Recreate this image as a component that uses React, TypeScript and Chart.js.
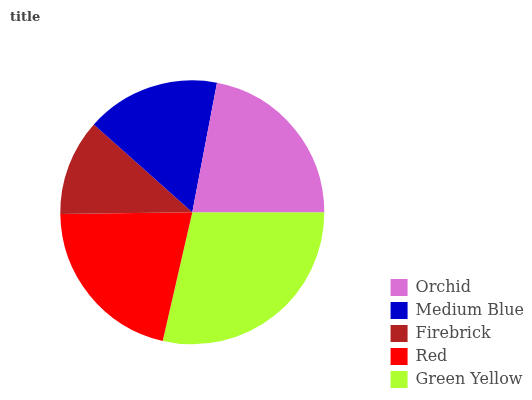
import React, { useEffect, useRef } from "react";
import { Chart, registerables } from "chart.js";

Chart.register(...registerables);

const labels = ["Orchid", "Medium Blue", "Firebrick", "Red", "Green Yellow"];
const values = [22.0, 16.4, 11.8, 21.2, 28.6];
const colors = ["#DA70D6", "#0000CD", "#B22222", "#FF0000", "#ADFF2F"];
const titleText = "title";

export default function App() {
  const ref = useRef<HTMLCanvasElement | null>(null);

  useEffect(() => {
    document.body.style.margin = "0";
    const canvas = ref.current;
    if (!canvas) return;
    // the reference slices run counter-clockwise; Chart.js draws clockwise,
    // so feed the data reversed and reverse the legend back.
    const rl = [...labels].reverse();
    const rv = [...values].reverse();
    const rc = [...colors].reverse();

    const titleInset = {
      id: "titleInset",
      afterLayout(chart: any) {
        const t = chart.titleBlock;
        if (t) {
          t.left += 10;
          t.right += 10;
        }
      },
    };

    const chart = new Chart(canvas, {
      type: "pie",
      data: {
        labels: rl,
        datasets: [
          {
            data: rv,
            backgroundColor: rc,
            borderWidth: 0,
          },
        ],
      },
      plugins: [titleInset],
      options: {
        responsive: false,
        animation: false,
        rotation: 90,
        radius: 132,
        layout: { padding: { left: 0, right: -2, top: 0, bottom: 6 } },
        font: { family: "'DejaVu Serif', serif" } as any,
        plugins: {
          title: {
            display: true,
            text: titleText,
            align: "start",
            color: "#444444",
            font: { family: "'DejaVu Serif', serif", size: 13, weight: "bold", lineHeight: 1.2 },
            padding: { top: 10, bottom: 5 },
          },
          legend: {
            display: true,
            position: "right",
            align: "end",
            reverse: true,
            labels: {
              boxWidth: 17,
              boxHeight: 17,
              padding: 6,
              color: "#4d4d4d",
              font: { family: "'DejaVu Serif', serif", size: 16 },
            },
          },
          tooltip: { enabled: false },
        },
      },
    });
    return () => chart.destroy();
  }, []);

  return (
    <div style={{ width: 532, height: 400 }}>
      <canvas ref={ref} width={532} height={400} style={{ display: "block" }} />
    </div>
  );
}
